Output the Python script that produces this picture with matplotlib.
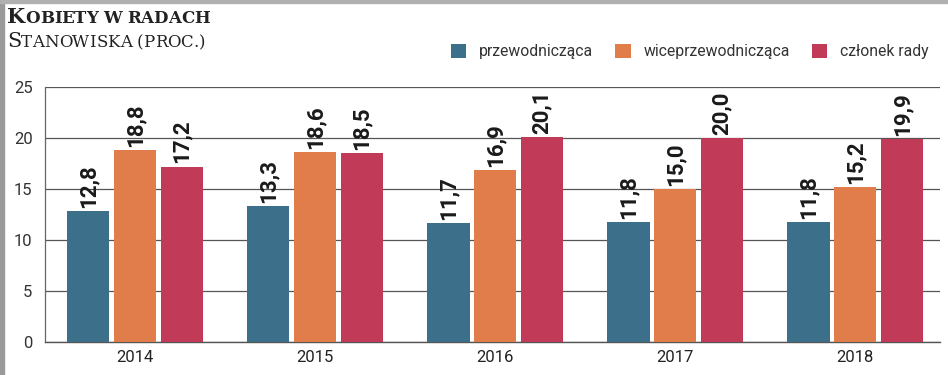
import matplotlib
matplotlib.use("Agg")
import matplotlib.pyplot as plt
import numpy as np
from matplotlib.patches import Rectangle

years = ["2014", "2015", "2016", "2017", "2018"]
series_names = ["przewodnicząca", "wiceprzewodnicząca", "członek rady"]
przew = [12.8, 13.3, 11.7, 11.8, 11.8]
wice = [18.8, 18.6, 16.9, 15.0, 15.2]
czlonek = [17.2, 18.5, 20.1, 20.0, 19.9]
colors = ["#3b6f8a", "#e07d4b", "#c13a57"]
yticks = [0, 5, 10, 15, 20, 25]

plt.rcParams['font.family'] = ['Roboto', 'DejaVu Sans']

fig = plt.figure(figsize=(9.48, 3.75), dpi=100)
ax = fig.add_axes([0.0475, 0.088, 0.944, 0.68])

x = np.arange(len(years))
w = 0.235
step = 0.26
for i, (vals, c) in enumerate(zip([przew, wice, czlonek], colors)):
    pos = x + (i - 1) * step
    ax.bar(pos, vals, width=w, color=c, zorder=3, label=series_names[i])
    for p, v in zip(pos, vals):
        ax.text(p, v + 0.3, f"{v:.1f}".replace(".", ","), rotation=90,
                ha="center", va="bottom", fontsize=16, fontweight="bold",
                color="#1a1a1a", zorder=4)

ax.set_xlim(-0.5, 4.47)
ax.set_ylim(0, 25)
ax.set_yticks(yticks)
ax.set_yticklabels([str(t) for t in yticks], fontsize=12, color="#333333")
ax.set_xticks(x)
ax.set_xticklabels(years, fontsize=12, color="#222222")
ax.tick_params(axis="x", length=0, pad=6)
ax.tick_params(axis="y", length=0, pad=9)
ax.yaxis.grid(True, color="#555555", linewidth=0.9, zorder=1)
for s in ["top", "right"]:
    ax.spines[s].set_visible(False)
ax.spines["left"].set_color("#666666")
ax.spines["bottom"].set_color("#555555")
ax.spines["left"].set_linewidth(0.9)
ax.spines["bottom"].set_linewidth(1.0)

# legend
leg = fig.legend(loc="upper right", bbox_to_anchor=(0.986, 0.9), ncol=3,
                 frameon=False, fontsize=11.3, handlelength=1.0, handleheight=1.0,
                 columnspacing=1.4, handletextpad=0.8, borderaxespad=0)
for t in leg.get_texts():
    t.set_color("#333333")

# title in small caps style
fig.canvas.draw()
r = fig.canvas.get_renderer()
def smallcaps(xpx, ypx, text, big, small, weight):
    cur = xpx
    for word_i, word in enumerate(text.split(" ")):
        if word_i > 0:
            cur += small * 0.4
        for ch in word:
            size = big if ch.isupper() else small
            t = fig.text(cur / 948, ypx / 375, ch.upper(), fontsize=size,
                         family="DejaVu Serif", fontweight=weight,
                         color="#222222", va="baseline")
            bb = t.get_window_extent(renderer=r)
            cur += bb.width
    return cur

smallcaps(7, 375 - 23, "Kobiety w radach", 15, 12, "bold")
smallcaps(7, 375 - 47, "Stanowiska (proc.)", 15, 12, "normal")

# frame borders
fig.patches.append(Rectangle((0, 0), 4 / 948, 1, transform=fig.transFigure,
                             color="#9a9a9a", zorder=0))
fig.patches.append(Rectangle((0, 1 - 3 / 375), 1, 3 / 375, transform=fig.transFigure,
                             color="#b0b0b0", zorder=0))

fig.savefig("out.png", dpi=100)
